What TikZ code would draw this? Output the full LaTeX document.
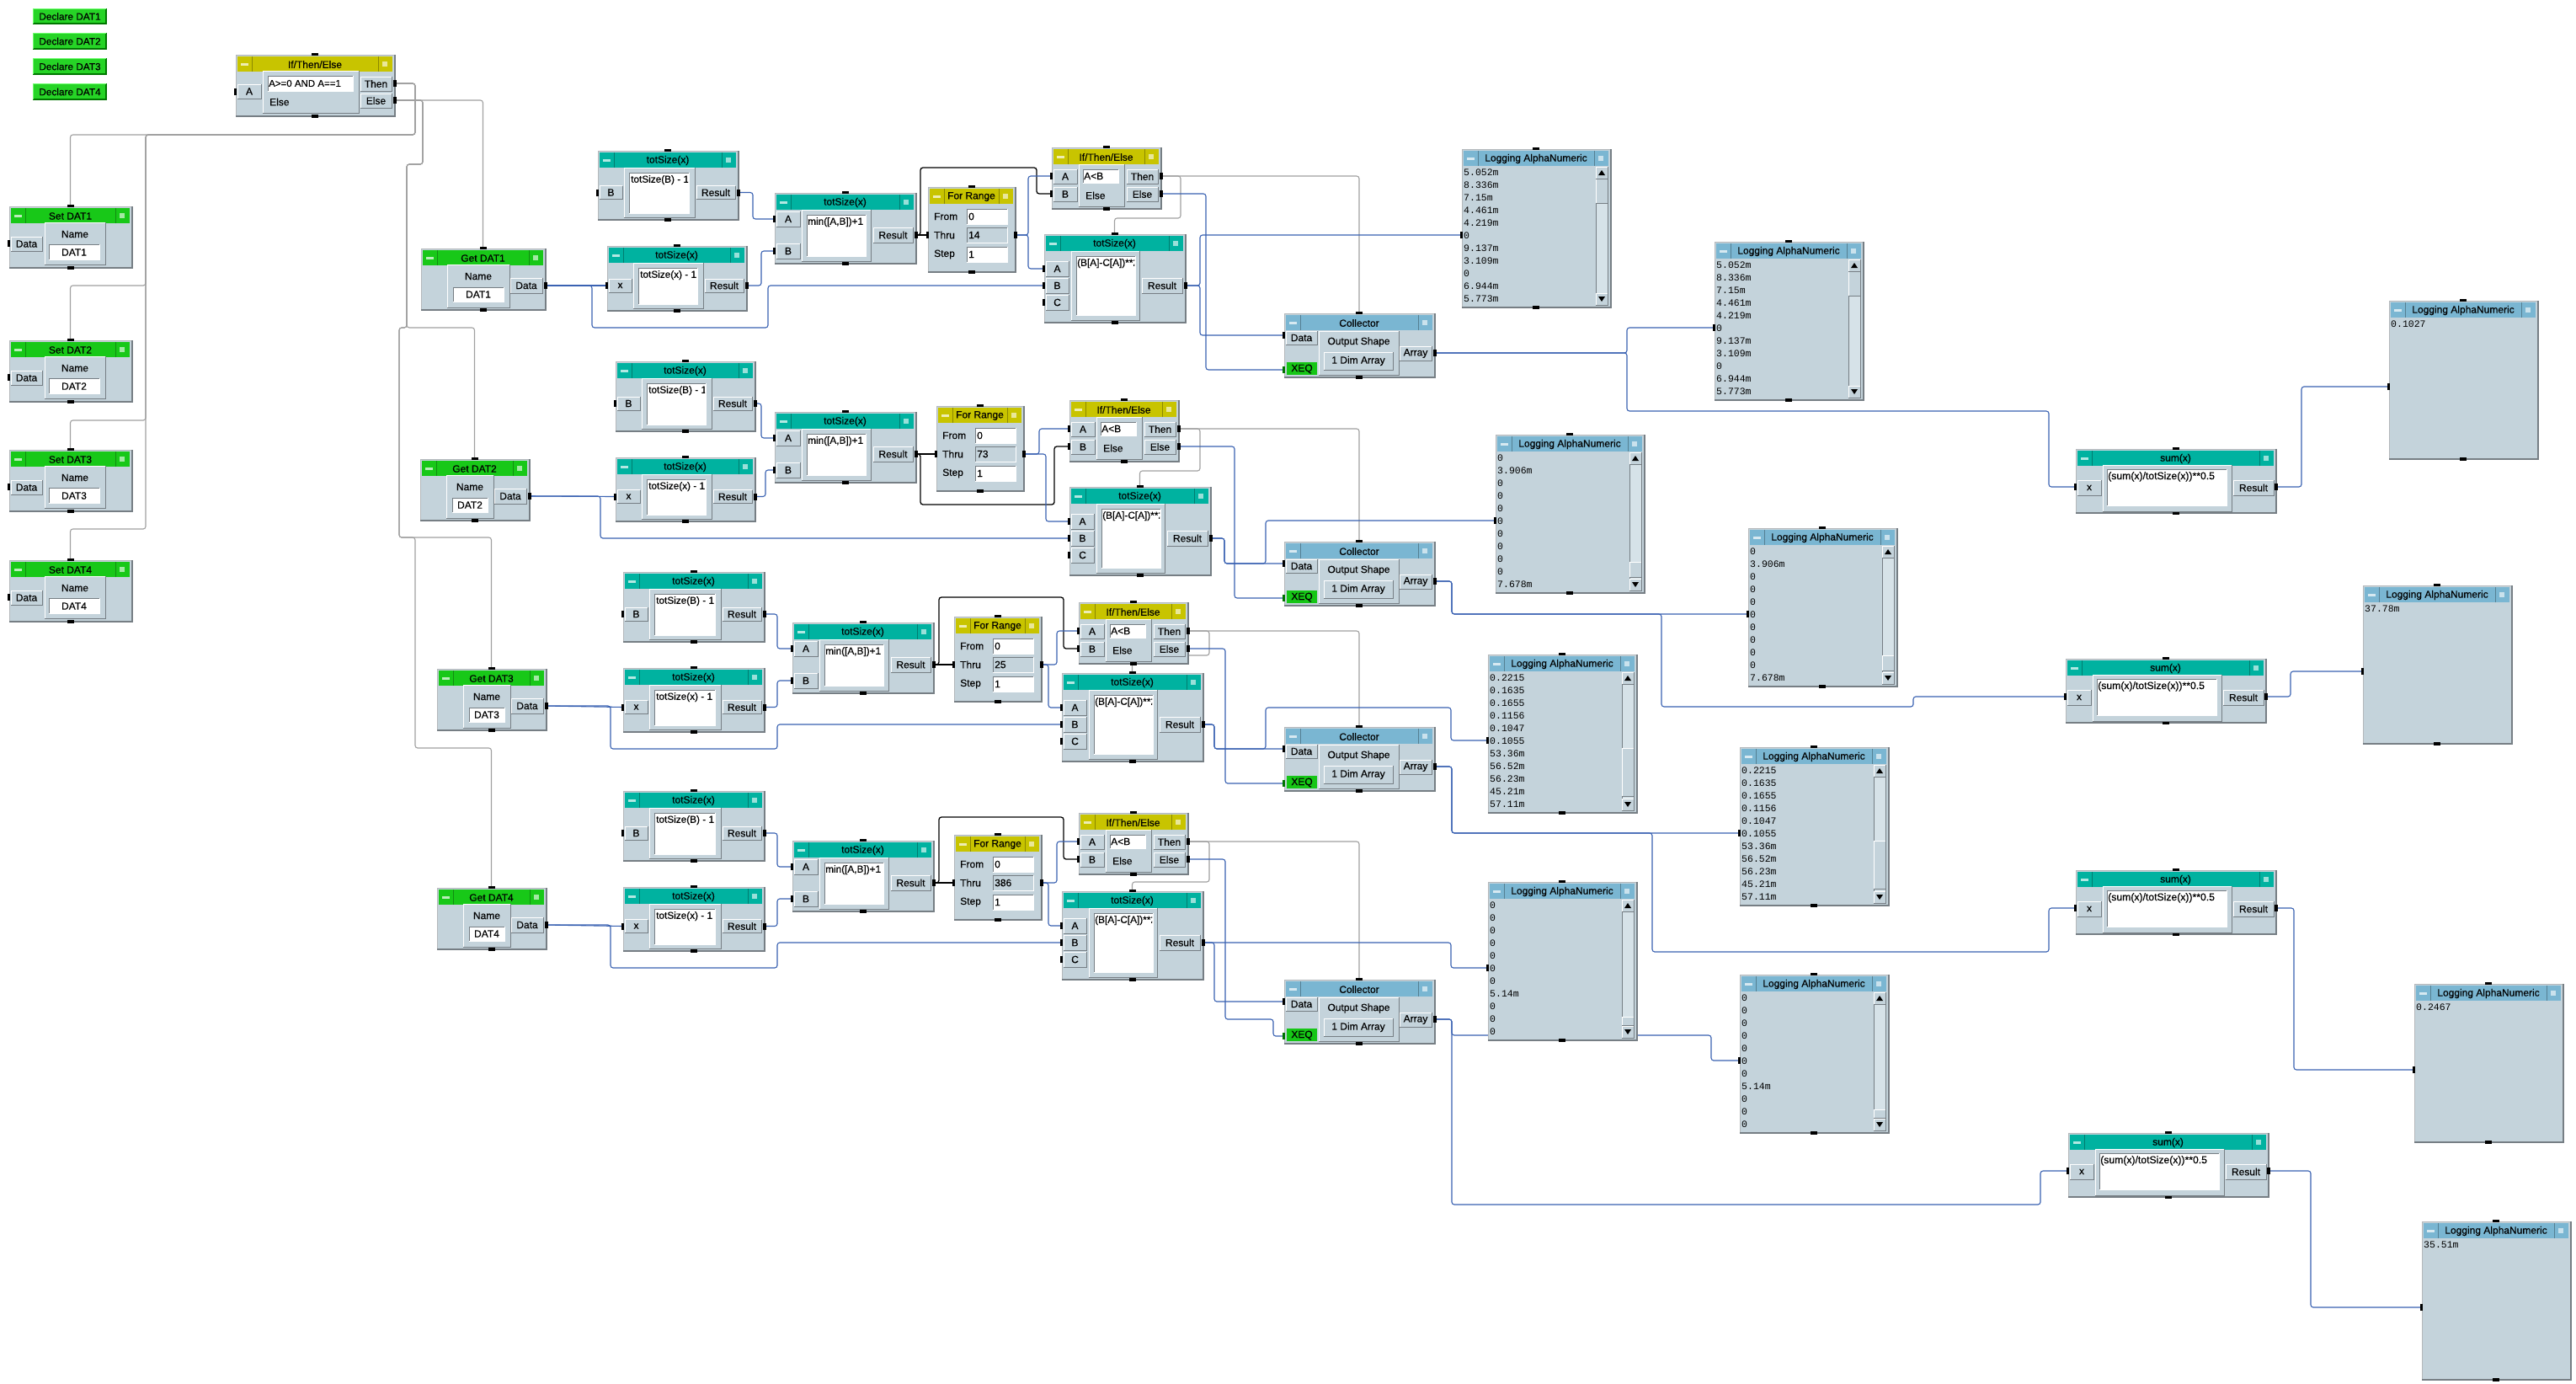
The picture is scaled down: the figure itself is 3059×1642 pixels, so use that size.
\documentclass[tikz,border=0pt]{standalone}
\usepackage{fontspec}
\setmainfont{Liberation Sans}[FakeBold=0.35]
\newfontfamily\logfont{Liberation Mono}

\definecolor{bodyc}{RGB}{196,211,219}
\definecolor{trackc}{RGB}{214,226,232}
\definecolor{framedk}{RGB}{118,126,132}
\definecolor{greent}{RGB}{24,200,24}
\definecolor{tealt}{RGB}{0,178,160}
\definecolor{olivet}{RGB}{200,196,0}
\definecolor{bluet}{RGB}{122,182,210}
\definecolor{declc}{RGB}{38,212,38}
\definecolor{decldk}{RGB}{0,118,0}
\definecolor{xeqc}{RGB}{22,198,22}
\definecolor{wirec}{RGB}{58,98,178}
\definecolor{seqc}{RGB}{160,160,160}

\tikzset{
  ttl/.style={font=\fontsize{12}{12}\selectfont, inner sep=0pt, text=black},
  lbl/.style={font=\fontsize{12}{12}\selectfont, inner sep=0pt, text=black},
  exprtext/.style={font=\fontsize{11.8}{12}\selectfont, inner sep=0pt, anchor=north west, text=black},
  logtext/.style={font=\logfont\fontsize{11.5}{12}\selectfont, inner sep=0pt, anchor=west, text=black},
  datawire/.style={draw=wirec, line width=1.1pt, rounded corners=3pt},
  seqwire/.style={draw=seqc, line width=1.1pt, rounded corners=3pt},
  loopwire/.style={draw=black, line width=1.3pt, rounded corners=3pt},
}

% ---------- basic pieces ----------
\newcommand\raisedbox[4]{%
  \fill[bodyc] (#1,#2) rectangle (#3,#4);
  \draw[white, line width=1pt] (#1,#4) -- (#1,#2) -- (#3,#2);
  \draw[framedk, line width=1pt] (#1,#4) -- (#3,#4) -- (#3,#2);
}
\newcommand\sunkenbox[5]{%
  \fill[#5] (#1,#2) rectangle (#3,#4);
  \draw[framedk, line width=1pt] (#1,#4) -- (#1,#2) -- (#3,#2);
  \draw[white, line width=1pt] (#1,#4) -- (#3,#4) -- (#3,#2);
}
\newcommand\labelbox[5]{%
  \raisedbox{#1}{#2}{#3}{#4}
  \node[lbl] at ({(#1+#3)/2},{(#2+#4)/2}) {#5};
}
\newcommand\pinin[3]{%
  \fill[black] ({#2-2.5},{#3-4}) rectangle ({#2+1},{#3+4});
  \coordinate (#1) at (#2,#3);
}
\newcommand\pinout[3]{%
  \fill[black] ({#2-1},{#3-4}) rectangle ({#2+2.5},{#3+4});
  \coordinate (#1) at (#2,#3);
}
% object frame: name, x1, y1, x2, y2, title colour, title
\newcommand\frameobj[7]{%
  \fill[bodyc] (#2,#3) rectangle (#4,#5);
  \draw[framedk!55, line width=1pt] (#2,#3) rectangle (#4,#5);
  \draw[framedk, line width=2pt] (#2,{#5+1}) -- ({#4+1},{#5+1}) -- ({#4+1},#3);
  \fill[#6] ({#2+2},{#3+2}) rectangle ({#4-2},{#3+20});
  \draw[black!30!#6, line width=.7pt] ({#2+19},{#3+2}) -- ({#2+19},{#3+20})
       ({#4-19},{#3+2}) -- ({#4-19},{#3+20});
  \fill[white!70!#6] ({#2+6},{#3+10}) rectangle ({#2+15},{#3+12.5});
  \fill[white!60!#6] ({#4-14},{#3+7.5}) rectangle ({#4-8},{#3+13.5});
  \node[ttl] at ({(#2+#4)/2},{#3+11.5}) {#7};
  \coordinate (#1) at ({(#2+#4)/2},{(#3+#5)/2});
  \coordinate (#1-top) at ({(#2+#4)/2},#3);
  \coordinate (#1-bot) at ({(#2+#4)/2},#5);
  \fill[black] ({(#2+#4)/2-4},{#3-2.5}) rectangle ({(#2+#4)/2+4},{#3+1});
  \fill[black] ({(#2+#4)/2-4},{#5-1}) rectangle ({(#2+#4)/2+4},{#5+2.5});
}

% ---------- object types ----------
% single input formula: name, x, y, width, height, input label, expression
\newcommand\formulaone[7]{%
  \frameobj{#1}{#2}{#3}{#2+#4}{#3+#5}{tealt}{totSize(x)}
  \labelbox{#2+2}{#3+#5/2+1}{#2+29}{#3+#5/2+17}{#6}
  \raisedbox{#2+31}{#3+20}{#2+#4-51}{#3+#5-2}
  \sunkenbox{#2+37}{#3+26}{#2+#4-58}{#3+#5-7}{white}
  \begin{scope}
    \clip (#2+38,#3+27) rectangle (#2+#4-59,#3+#5-8);
    \node[exprtext] at (#2+39,#3+29) {#7};
  \end{scope}
  \labelbox{#2+#4-49}{#3+#5/2+1}{#2+#4-3}{#3+#5/2+17}{Result}
  \pinin{#1-in}{#2}{#3+#5/2+9}
  \pinout{#1-out}{#2+#4}{#3+#5/2+9}
}
% two input minimum: name, x, y
\newcommand\formulatwo[3]{%
  \frameobj{#1}{#2}{#3}{#2+167}{#3+83}{tealt}{totSize(x)}
  \labelbox{#2+2}{#3+22}{#2+30}{#3+40}{A}
  \labelbox{#2+2}{#3+60}{#2+30}{#3+78}{B}
  \raisedbox{#2+32}{#3+20}{#2+114}{#3+81}
  \sunkenbox{#2+38}{#3+26}{#2+108}{#3+75}{white}
  \node[exprtext] at (#2+39,#3+29) {min([A,B])+1};
  \labelbox{#2+117}{#3+41}{#2+164}{#3+59}{Result}
  \pinin{#1-a}{#2}{#3+31}
  \pinin{#1-b}{#2}{#3+69}
  \pinout{#1-out}{#2+167}{#3+50}
}
% three input squared difference: name, x, y
\newcommand\formulathree[3]{%
  \frameobj{#1}{#2}{#3}{#2+167}{#3+104}{tealt}{totSize(x)}
  \labelbox{#2+2}{#3+32}{#2+29}{#3+50}{A}
  \labelbox{#2+2}{#3+52}{#2+29}{#3+70}{B}
  \labelbox{#2+2}{#3+72}{#2+29}{#3+90}{C}
  \raisedbox{#2+32}{#3+20}{#2+113}{#3+102}
  \sunkenbox{#2+38}{#3+26}{#2+108}{#3+96}{white}
  \begin{scope}
    \clip (#2+39,#3+27) rectangle (#2+107,#3+95);
    \node[exprtext] at (#2+39,#3+29) {(B[A]-C[A])**2};
  \end{scope}
  \labelbox{#2+116}{#3+52}{#2+164}{#3+70}{Result}
  \pinin{#1-a}{#2}{#3+41}
  \pinin{#1-b}{#2}{#3+61}
  \pinin{#1-c}{#2}{#3+81}
  \pinout{#1-out}{#2+167}{#3+61}
}
% small if/then/else: name, x, y
\newcommand\ifsmall[3]{%
  \frameobj{#1}{#2}{#3}{#2+129}{#3+72}{olivet}{If/Then/Else}
  \labelbox{#2+2}{#3+26}{#2+30}{#3+43}{A}
  \labelbox{#2+2}{#3+47}{#2+30}{#3+64}{B}
  \raisedbox{#2+32}{#3+20}{#2+86}{#3+70}
  \sunkenbox{#2+37}{#3+26}{#2+79}{#3+42}{white}
  \node[lbl, anchor=west] at (#2+38,#3+34) {A<B};
  \node[lbl, anchor=west] at (#2+40,#3+57) {Else};
  \labelbox{#2+89}{#3+26}{#2+126}{#3+43}{Then}
  \labelbox{#2+89}{#3+47}{#2+126}{#3+64}{Else}
  \pinin{#1-a}{#2}{#3+34}
  \pinin{#1-b}{#2}{#3+55}
  \pinout{#1-then}{#2+129}{#3+34}
  \pinout{#1-else}{#2+129}{#3+55}
}
% for range: name, x, y, upper limit
\newcommand\forrange[4]{%
  \frameobj{#1}{#2}{#3}{#2+103}{#3+100}{olivet}{For Range}
  \node[lbl, anchor=west] at (#2+7,#3+35) {From};
  \node[lbl, anchor=west] at (#2+7,#3+57) {Thru};
  \node[lbl, anchor=west] at (#2+7,#3+80) {Step};
  \sunkenbox{#2+46}{#3+26}{#2+94}{#3+44}{white}
  \sunkenbox{#2+46}{#3+48}{#2+94}{#3+66}{bodyc}
  \sunkenbox{#2+46}{#3+71}{#2+94}{#3+89}{white}
  \node[lbl, anchor=west] at (#2+48,#3+35) {0};
  \node[lbl, anchor=west] at (#2+48,#3+57) {#4};
  \node[lbl, anchor=west] at (#2+48,#3+80) {1};
  \pinin{#1-in}{#2}{#3+57}
  \pinout{#1-out}{#2+103}{#3+57}
}
% collector: name, x, y
\newcommand\collector[3]{%
  \frameobj{#1}{#2}{#3}{#2+178}{#3+75}{bluet}{Collector}
  \labelbox{#2+2}{#3+21}{#2+39}{#3+37}{Data}
  \fill[xeqc] (#2+3,#3+58) rectangle (#2+39,#3+73);
  \node[lbl] at (#2+21,#3+66) {XEQ};
  \raisedbox{#2+41}{#3+21}{#2+136}{#3+73}
  \node[lbl] at (#2+88.5,#3+34) {Output Shape};
  \raisedbox{#2+47}{#3+46}{#2+129}{#3+67}
  \node[lbl] at (#2+88,#3+56.5) {1 Dim Array};
  \labelbox{#2+137}{#3+39}{#2+175}{#3+56}{Array}
  \pinin{#1-data}{#2}{#3+26}
  \fill[green!45!black] (#2-2.5,#3+63) rectangle (#2+1,#3+71);
  \coordinate (#1-xeq) at (#2,#3+67);
  \pinout{#1-array}{#2+178}{#3+47}
}
% logging display with scroll bar: name, x, y, values, thumb top, thumb bottom
\newcommand\logwin[6]{%
  \frameobj{#1}{#2}{#3}{#2+176}{#3+187}{bluet}{Logging AlphaNumeric}
  \foreach \v [count=\i] in {#4} {\node[logtext] at (#2+2,{#3+28+15*(\i-1)}) {\v};}
  \fill[trackc] (#2+159,#3+21) rectangle (#2+173,#3+185);
  \draw[framedk, line width=.6pt] (#2+159,#3+21) rectangle (#2+173,#3+185);
  \raisedbox{#2+159}{#3+#5}{#2+173}{#3+#6}
  \raisedbox{#2+159}{#3+21}{#2+173}{#3+35}
  \raisedbox{#2+159}{#3+171}{#2+173}{#3+185}
  \fill[black] (#2+162,#3+31) -- (#2+170,#3+31) -- (#2+166,#3+25) -- cycle;
  \fill[black] (#2+162,#3+175) -- (#2+170,#3+175) -- (#2+166,#3+181) -- cycle;
  \pinin{#1-in}{#2}{#3+102}
}
% logging display holding one value: name, x, y, value
\newcommand\resultwin[4]{%
  \frameobj{#1}{#2}{#3}{#2+176}{#3+187}{bluet}{Logging AlphaNumeric}
  \node[logtext] at (#2+2,#3+28) {#4};
  \pinin{#1-in}{#2}{#3+102}
}
% set variable: name, x, y, variable
\newcommand\setobj[4]{%
  \frameobj{#1}{#2}{#3}{#2+145}{#3+72}{greent}{Set #4}
  \labelbox{#2+2}{#3+36}{#2+39}{#3+53}{Data}
  \raisedbox{#2+42}{#3+19}{#2+114}{#3+69}
  \node[lbl] at (#2+78,#3+33) {Name};
  \sunkenbox{#2+47}{#3+45}{#2+107}{#3+63}{white}
  \node[lbl] at (#2+77,#3+54.5) {#4};
  \pinin{#1-data}{#2}{#3+44}
}
% get variable: name, x, y, width, variable
\newcommand\getobj[5]{%
  \frameobj{#1}{#2}{#3}{#2+#4}{#3+72}{greent}{Get #5}
  \raisedbox{#2+31}{#3+19}{#2+#4-42}{#3+70}
  \node[lbl] at ({#2+(#4-11)/2},{#3+33}) {Name};
  \sunkenbox{#2+38}{#3+46}{#2+#4-49}{#3+63}{white}
  \node[lbl] at ({#2+(#4-11)/2},{#3+54.5}) {#5};
  \labelbox{#2+#4-41}{#3+35}{#2+#4-3}{#3+53}{Data}
  \pinout{#1-data}{#2+#4}{#3+44}
}
% rms formula: name, x, y
\newcommand\sumobj[3]{%
  \frameobj{#1}{#2}{#3}{#2+237}{#3+75}{tealt}{sum(x)}
  \labelbox{#2+2}{#3+37}{#2+30}{#3+55}{x}
  \raisedbox{#2+32}{#3+19}{#2+185}{#3+74}
  \sunkenbox{#2+37}{#3+24}{#2+179}{#3+67}{white}
  \node[exprtext, font=\fontsize{12.2}{12}\selectfont] at (#2+38,#3+27) {(sum(x)/totSize(x))**0.5};
  \labelbox{#2+187}{#3+37}{#2+235}{#3+55}{Result}
  \pinin{#1-in}{#2}{#3+45}
  \pinout{#1-out}{#2+237}{#3+45}
}
% declare button: name, x1, y1, x2, y2, text
\newcommand\declbtn[6]{%
  \fill[declc] (#2,#3) rectangle (#4,#5);
  \draw[decldk, line width=2pt] (#2,{#5-1}) -- ({#4-1},{#5-1}) -- ({#4-1},#3);
  \draw[green!55!white, line width=1pt] ({#2+.5},{#5-1}) -- ({#2+.5},{#3+.5}) -- ({#4-1},{#3+.5});
  \node[lbl, font=\fontsize{11.8}{12}\selectfont] (#1) at ({(#2+#4)/2},{(#3+#5)/2}) {#6};
}

\begin{document}
\begin{tikzpicture}[x=1pt,y=-1pt]
\useasboundingbox (0,0) rectangle (3059,1642);

% ---------- invisible first pass: defines every pin coordinate ----------
\begin{scope}[opacity=0]
  \coordinate (ite0-then) at (468,99);
  \coordinate (ite0-else) at (468,119);
  \setobj{set1}{11}{245}{DAT1}
  \setobj{set2}{11}{404}{DAT2}
  \setobj{set3}{11}{534}{DAT3}
  \setobj{set4}{11}{665}{DAT4}
  \getobj{get1}{500}{295}{147}{DAT1}
  \getobj{get2}{499}{545}{129}{DAT2}
  \getobj{get3}{519}{794}{129}{DAT3}
  \getobj{get4}{519}{1054}{129}{DAT4}
  \formulaone{t1a}{710}{179}{166}{81}{B}{}
  \formulaone{t1b}{721}{292}{165}{76}{x}{}
  \formulatwo{t1c}{920}{229}
  \forrange{fr1}{1102}{222}{}
  \ifsmall{ite1}{1249}{175}
  \formulathree{t1d}{1240}{278}
  \collector{c1}{1525}{372}
  \logwin{l1a}{1736}{177}{}{34}{64}
  \logwin{l1b}{2036}{287}{}{34}{64}
  \sumobj{sum1}{2465}{533}
  \resultwin{l1c}{2837}{357}{}
  \formulaone{t2a}{731}{429}{165}{82}{B}{}
  \formulaone{t2b}{731}{543}{165}{75}{x}{}
  \formulatwo{t2c}{920}{489}
  \forrange{fr2}{1112}{482}{}
  \ifsmall{ite2}{1270}{475}
  \formulathree{t2d}{1270}{578}
  \collector{c2}{1525}{643}
  \logwin{l2a}{1776}{516}{}{151}{169}
  \logwin{l2b}{2076}{627}{}{151}{169}
  \sumobj{sum2}{2453}{782}
  \resultwin{l2c}{2806}{695}{}
  \formulaone{t3a}{740}{679}{167}{82}{B}{}
  \formulaone{t3b}{740}{793}{167}{75}{x}{}
  \formulatwo{t3c}{941}{739}
  \forrange{fr3}{1133}{732}{}
  \ifsmall{ite3}{1281}{715}
  \formulathree{t3d}{1261}{799}
  \collector{c3}{1525}{863}
  \logwin{l3a}{1767}{777}{}{111}{168}
  \logwin{l3b}{2066}{887}{}{111}{168}
  \sumobj{sum3}{2465}{1033}
  \resultwin{l3c}{2867}{1168}{}
  \formulaone{t4a}{740}{939}{167}{82}{B}{}
  \formulaone{t4b}{740}{1053}{167}{75}{x}{}
  \formulatwo{t4c}{941}{998}
  \forrange{fr4}{1133}{991}{}
  \ifsmall{ite4}{1281}{965}
  \formulathree{t4d}{1261}{1058}
  \collector{c4}{1525}{1163}
  \logwin{l4a}{1767}{1047}{}{160}{170}
  \logwin{l4b}{2066}{1157}{}{160}{170}
  \sumobj{sum4}{2456}{1345}
  \resultwin{l4c}{2876}{1450}{}
\end{scope}
\fill[white] (0,0) rectangle (3059,1642);

% ---------- sequence lines from the top branch ----------
\draw[seqwire] (ite0-then) -- (493,99) -- (493,160) -| (set1-top);
\draw[seqwire] (ite0-then) -- (493,99) -- (493,160) -- (173,160) |- (83.5,339) -- (set2-top);
\draw[seqwire] (ite0-then) -- (493,99) -- (493,160) -- (173,160) |- (83.5,499) -- (set3-top);
\draw[seqwire] (ite0-then) -- (493,99) -- (493,160) -- (173,160) |- (83.5,628) -- (set4-top);
\draw[seqwire] (ite0-else) -| (get1-top);
\draw[seqwire] (ite0-else) -- (502,119) -- (502,195) -- (483,195) -- (483,389) -| (get2-top);
\draw[seqwire] (ite0-else) -- (502,119) -- (502,195) -- (483,195) -- (483,389) -- (474,389) -- (474,638) -| (get3-top);
\draw[seqwire] (ite0-else) -- (502,119) -- (502,195) -- (483,195) -- (483,389) -- (474,389) -- (474,638) -- (493,638) -- (493,888) -| (get4-top);

% ---------- DAT1 chain ----------
\draw[datawire] (get1-data) -- (t1b-in);
\draw[datawire] (get1-data) -- (703,339) -- (703,389) -- (912,389) |- (t1d-b);
\draw[datawire] (t1a-out) -- ++(18,0) |- (t1c-a);
\draw[datawire] (t1b-out) -- ++(18,0) |- (t1c-b);
\draw[loopwire] (t1c-out) -- (fr1-in);
\draw[loopwire] (t1c-out) -- ++(6,0) |- (1231,199) |- (ite1-b);
\draw[datawire] (fr1-out) -- ++(16,0) |- (ite1-a);
\draw[datawire] (fr1-out) -- ++(16,0) |- (t1d-a);
\draw[seqwire] (ite1-then) -| (c1-top);
\draw[seqwire] (ite1-then) -- ++(24,0) |- (1323.5,259) -- (t1d-top);
\draw[datawire] (ite1-else) -- ++(54,0) |- (c1-xeq);
\draw[datawire] (t1d-out) -- ++(18,0) |- (l1a-in);
\draw[datawire] (t1d-out) -- ++(18,0) |- (c1-data);
\draw[datawire] (c1-array) -- (1932,419) |- (l1b-in);
\draw[datawire] (c1-array) -- (1932,419) -- (1932,488) -- (2433,488) |- (sum1-in);
\draw[datawire] (sum1-out) -- ++(31,0) |- (l1c-in);

% ---------- DAT2 chain ----------
\draw[datawire] (get2-data) -- (t2b-in);
\draw[datawire] (get2-data) -- (713,589) |- (t2d-b);
\draw[datawire] (t2a-out) -- ++(8,0) |- (t2c-a);
\draw[datawire] (t2b-out) -- ++(13,0) |- (t2c-b);
\draw[loopwire] (t2c-out) -- (fr2-in);
\draw[loopwire] (t2c-out) -- ++(6,0) |- (1252,599) |- (ite2-b);
\draw[datawire] (fr2-out) -- ++(19,0) |- (ite2-a);
\draw[datawire] (fr2-out) -- ++(27,0) |- (t2d-a);
\draw[seqwire] (ite2-then) -| (c2-top);
\draw[seqwire] (ite2-then) -- ++(26,0) |- (1353.5,559) -- (t2d-top);
\draw[datawire] (ite2-else) -- ++(67,0) |- (c2-xeq);
\draw[datawire] (t2d-out) -- ++(17,0) |- (c2-data);
\draw[datawire] (t2d-out) -- ++(17,0) |- (1503,669) |- (l2a-in);
\draw[datawire] (c2-array) -- ++(21,0) |- (l2b-in);
\draw[datawire] (c2-array) -- ++(21,0) |- (1973,729) -- (1973,839) -- (2272,839) |- (sum2-in);
\draw[datawire] (sum2-out) -- ++(30,0) |- (l2c-in);

% ---------- DAT3 chain ----------
\draw[datawire] (get3-data) -- (t3b-in);
\draw[datawire] (get3-data) -- (725,838) -- (725,889) -- (923,889) |- (t3d-b);
\draw[datawire] (t3a-out) -- ++(16,0) |- (t3c-a);
\draw[datawire] (t3b-out) -- ++(16,0) |- (t3c-b);
\draw[loopwire] (t3c-out) -- (fr3-in);
\draw[loopwire] (t3c-out) -- ++(7,0) |- (1263,709) |- (ite3-b);
\draw[datawire] (fr3-out) -- ++(19,0) |- (ite3-a);
\draw[datawire] (fr3-out) -- ++(9,0) |- (t3d-a);
\draw[seqwire] (ite3-then) -| (c3-top);
\draw[seqwire] (ite3-then) -- ++(26,0) |- (1344.5,778) -- (t3d-top);
\draw[datawire] (ite3-else) -- ++(45,0) |- (c3-xeq);
\draw[datawire] (t3d-out) -- ++(14,0) |- (c3-data);
\draw[datawire] (t3d-out) -- ++(14,0) |- (1503,889) |- (1723,840) |- (l3a-in);
\draw[datawire] (c3-array) -- ++(21,0) |- (l3b-in);
\draw[datawire] (c3-array) -- ++(21,0) |- (1962,989) -- (1962,1130) -- (2433,1130) |- (sum3-in);
\draw[datawire] (sum3-out) -- ++(22,0) |- (l3c-in);

% ---------- DAT4 chain ----------
\draw[datawire] (get4-data) -- (t4b-in);
\draw[datawire] (get4-data) -- (725,1098) -- (725,1149) -- (923,1149) |- (t4d-b);
\draw[datawire] (t4a-out) -- ++(16,0) |- (t4c-a);
\draw[datawire] (t4b-out) -- ++(16,0) |- (t4c-b);
\draw[loopwire] (t4c-out) -- (fr4-in);
\draw[loopwire] (t4c-out) -- ++(7,0) |- (1263,970) |- (ite4-b);
\draw[datawire] (fr4-out) -- ++(19,0) |- (ite4-a);
\draw[datawire] (fr4-out) -- ++(9,0) |- (t4d-a);
\draw[seqwire] (ite4-then) -| (c4-top);
\draw[seqwire] (ite4-then) -- ++(26,0) |- (1344.5,1047) -- (t4d-top);
\draw[datawire] (ite4-else) -- ++(45,0) |- (1512,1210) |- (c4-xeq);
\draw[datawire] (t4d-out) -| (1723,1149) -- (l4a-in);
\draw[datawire] (t4d-out) -- ++(14,0) |- (c4-data);
\draw[datawire] (c4-array) -- ++(21,0) |- (2032,1229) |- (l4b-in);
\draw[datawire] (c4-array) -- ++(21,0) -- (1724,1430) -- (2423,1430) |- (sum4-in);
\draw[datawire] (sum4-out) -- ++(51,0) |- (l4c-in);

% ---------- objects ----------
\declbtn{decl1}{39}{10}{127}{29}{Declare DAT1}
\declbtn{decl2}{39}{39}{127}{59}{Declare DAT2}
\declbtn{decl3}{39}{69}{127}{89}{Declare DAT3}
\declbtn{decl4}{39}{99}{127}{119}{Declare DAT4}

% top branch
\frameobj{ite0}{280}{65}{468}{137}{olivet}{If/Then/Else}
\labelbox{282}{100}{310}{117}{A}
\raisedbox{312}{84}{426}{134}
\sunkenbox{318}{90}{419}{108}{white}
\node[lbl, anchor=west, font=\fontsize{11.5}{12}\selectfont] at (319,99) {A>=0 AND A==1};
\node[lbl, anchor=west] at (320,121) {Else};
\labelbox{428}{91}{465}{108}{Then}
\labelbox{428}{111}{465}{128}{Else}
\pinin{ite0-a}{280}{109}
\pinout{ite0-then}{468}{99}
\pinout{ite0-else}{468}{119}

\setobj{set1}{11}{245}{DAT1}
\setobj{set2}{11}{404}{DAT2}
\setobj{set3}{11}{534}{DAT3}
\setobj{set4}{11}{665}{DAT4}
\getobj{get1}{500}{295}{147}{DAT1}
\getobj{get2}{499}{545}{129}{DAT2}
\getobj{get3}{519}{794}{129}{DAT3}
\getobj{get4}{519}{1054}{129}{DAT4}

% DAT1 chain
\formulaone{t1a}{710}{179}{166}{81}{B}{totSize(B) - 1}
\formulaone{t1b}{721}{292}{165}{76}{x}{totSize(x) - 1}
\formulatwo{t1c}{920}{229}
\forrange{fr1}{1102}{222}{14}
\ifsmall{ite1}{1249}{175}
\formulathree{t1d}{1240}{278}
\collector{c1}{1525}{372}
\logwin{l1a}{1736}{177}{5.052m,8.336m,7.15m,4.461m,4.219m,0,9.137m,3.109m,0,6.944m,5.773m}{34}{64}
\logwin{l1b}{2036}{287}{5.052m,8.336m,7.15m,4.461m,4.219m,0,9.137m,3.109m,0,6.944m,5.773m}{34}{64}
\sumobj{sum1}{2465}{533}
\resultwin{l1c}{2837}{357}{0.1027}

% DAT2 chain
\formulaone{t2a}{731}{429}{165}{82}{B}{totSize(B) - 1}
\formulaone{t2b}{731}{543}{165}{75}{x}{totSize(x) - 1}
\formulatwo{t2c}{920}{489}
\forrange{fr2}{1112}{482}{73}
\ifsmall{ite2}{1270}{475}
\formulathree{t2d}{1270}{578}
\collector{c2}{1525}{643}
\logwin{l2a}{1776}{516}{0,3.906m,0,0,0,0,0,0,0,0,7.678m}{151}{169}
\logwin{l2b}{2076}{627}{0,3.906m,0,0,0,0,0,0,0,0,7.678m}{151}{169}
\sumobj{sum2}{2453}{782}
\resultwin{l2c}{2806}{695}{37.78m}

% DAT3 chain
\formulaone{t3a}{740}{679}{167}{82}{B}{totSize(B) - 1}
\formulaone{t3b}{740}{793}{167}{75}{x}{totSize(x) - 1}
\formulatwo{t3c}{941}{739}
\forrange{fr3}{1133}{732}{25}
\ifsmall{ite3}{1281}{715}
\formulathree{t3d}{1261}{799}
\collector{c3}{1525}{863}
\logwin{l3a}{1767}{777}{0.2215,0.1635,0.1655,0.1156,0.1047,0.1055,53.36m,56.52m,56.23m,45.21m,57.11m}{111}{168}
\logwin{l3b}{2066}{887}{0.2215,0.1635,0.1655,0.1156,0.1047,0.1055,53.36m,56.52m,56.23m,45.21m,57.11m}{111}{168}
\sumobj{sum3}{2465}{1033}
\resultwin{l3c}{2867}{1168}{0.2467}

% DAT4 chain
\formulaone{t4a}{740}{939}{167}{82}{B}{totSize(B) - 1}
\formulaone{t4b}{740}{1053}{167}{75}{x}{totSize(x) - 1}
\formulatwo{t4c}{941}{998}
\forrange{fr4}{1133}{991}{386}
\ifsmall{ite4}{1281}{965}
\formulathree{t4d}{1261}{1058}
\collector{c4}{1525}{1163}
\logwin{l4a}{1767}{1047}{0,0,0,0,0,0,0,5.14m,0,0,0}{160}{170}
\logwin{l4b}{2066}{1157}{0,0,0,0,0,0,0,5.14m,0,0,0}{160}{170}
\sumobj{sum4}{2456}{1345}
\resultwin{l4c}{2876}{1450}{35.51m}
\end{tikzpicture}
\end{document}
